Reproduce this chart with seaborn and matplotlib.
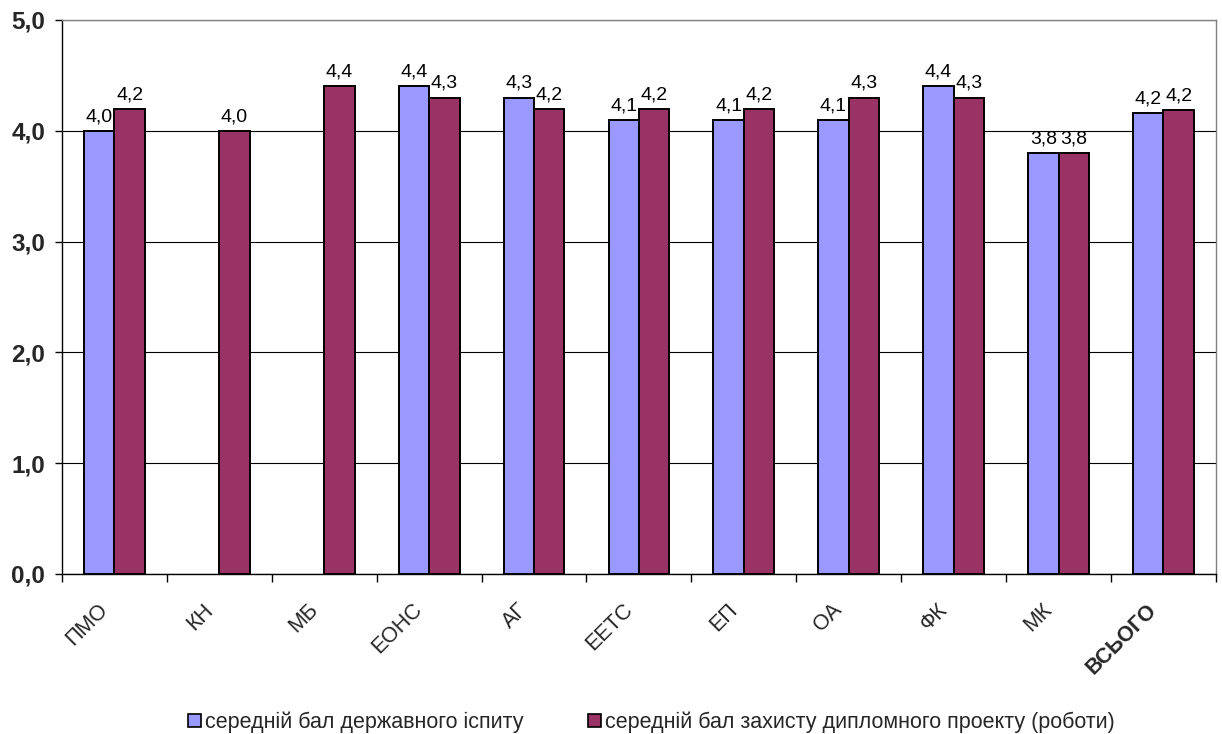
import matplotlib
matplotlib.use("Agg")
import matplotlib.pyplot as plt
import matplotlib.transforms as mtransforms
import numpy as np
import pandas as pd
import seaborn as sns
from matplotlib.patches import Patch

CATEGORIES = ["ПМО", "КН", "МБ", "ЕОНС", "АГ", "ЕЕТС", "ЕП", "ОА", "ФК", "МК", "ВСЬОГО"]
EXAM = [4.0, np.nan, np.nan, 4.4, 4.3, 4.1, 4.1, 4.1, 4.4, 3.8, 4.16]
THESIS = [4.2, 4.0, 4.4, 4.3, 4.2, 4.2, 4.2, 4.3, 4.3, 3.8, 4.19]
SERIES = ["середній бал державного іспиту", "середній бал захисту дипломного проекту (роботи)"]
COLORS = ["#9999FF", "#993366"]

data = pd.DataFrame(
    {
        "category": CATEGORIES * 2,
        "value": EXAM + THESIS,
        "series": [SERIES[0]] * len(CATEGORIES) + [SERIES[1]] * len(CATEGORIES),
    }
)

sns.set_theme(style="white")
plt.rcParams["font.family"] = ["Liberation Sans", "DejaVu Sans"]

figure = plt.figure(figsize=(12.22, 7.34), dpi=100)
axis = figure.add_axes([0.0507, 0.218, 0.9443, 0.7548])

sns.barplot(
    data=data,
    x="category",
    y="value",
    hue="series",
    palette=COLORS,
    width=0.58,
    edgecolor="black",
    linewidth=1.4,
    saturation=1,
    legend=False,
    ax=axis,
)

# value labels; seaborn leaves None in the container for missing bars
for container in axis.containers:
    for bar in container:
        if bar is None or np.isnan(bar.get_height()):
            continue
        height = bar.get_height()
        axis.annotate(
            f"{height:.1f}".replace(".", ","),
            (bar.get_x() + bar.get_width() / 2, height),
            xytext=(0, 4),
            textcoords="offset points",
            ha="center",
            va="bottom",
            fontsize=14,
            color="black",
        )

axis.set_xlim(-0.5, len(CATEGORIES) - 0.5)
axis.set_ylim(0, 5)
axis.set_yticks(np.arange(0, 5.1, 1))
axis.set_yticklabels([f"{v:.1f}".replace(".", ",") for v in np.arange(0, 5.1, 1)],
                     fontsize=17.5, fontweight="bold")
axis.yaxis.grid(True, color="black", linewidth=0.8)
axis.set_axisbelow(True)
axis.tick_params(axis="y", left=True, length=5, width=1, color="black", pad=7)

axis.set_xticks(np.arange(len(CATEGORIES)))
axis.set_xticks(np.arange(-0.5, len(CATEGORIES)), minor=True)
axis.tick_params(axis="x", which="major", length=0, pad=14)
axis.tick_params(axis="x", which="minor", bottom=True, length=6, width=1, color="black")
shift = mtransforms.ScaledTranslation(-0.17, -0.06, figure.dpi_scale_trans)
for index, label in enumerate(axis.get_xticklabels()):
    label.set_rotation(45)
    label.set_ha("right")
    label.set_rotation_mode("anchor")
    label.set_fontsize(15.5)
    label.set_transform(label.get_transform() + shift)
    if index == len(CATEGORIES) - 1:
        label.set_fontweight("bold")

axis.set_xlabel("")
axis.set_ylabel("")
for side in ["left", "bottom"]:
    axis.spines[side].set_color("black")
    axis.spines[side].set_linewidth(1)
for side in ["top", "right"]:
    axis.spines[side].set_color("#808080")
    axis.spines[side].set_linewidth(1)

handles = [Patch(facecolor=c, edgecolor="black", linewidth=1.2) for c in COLORS]
figure.legend(
    handles,
    SERIES,
    loc="lower center",
    bbox_to_anchor=(0.533, -0.025),
    ncol=2,
    frameon=False,
    fontsize=15.5,
    handlelength=0.6,
    handleheight=0.6,
    handletextpad=0.2,
    columnspacing=3.0,
)

figure.savefig("out.png", dpi=100)
plt.close(figure)
